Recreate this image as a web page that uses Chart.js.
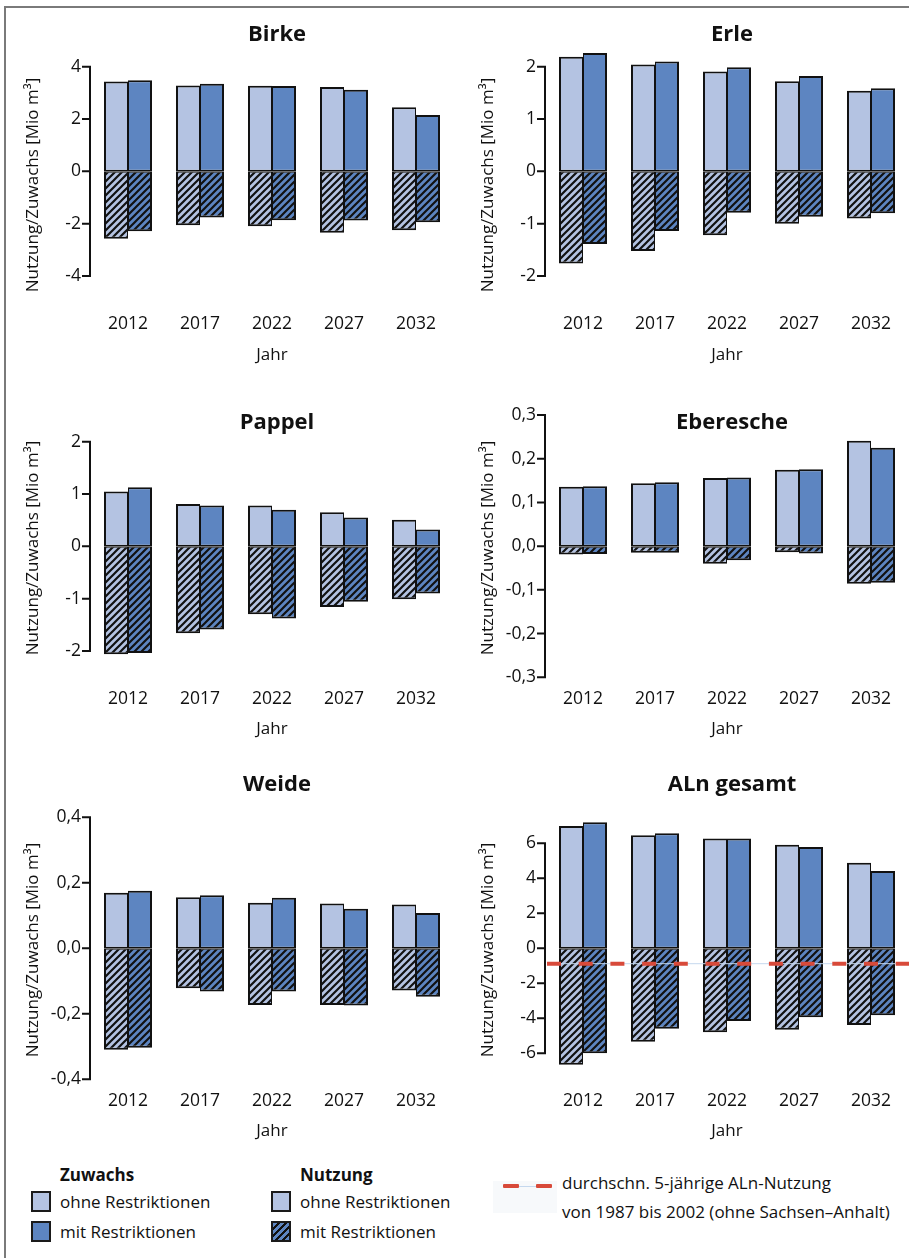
<!DOCTYPE html>
<html>
<head>
<meta charset="utf-8">
<script src="https://cdn.jsdelivr.net/npm/chart.js@4.4.1/dist/chart.umd.min.js"></script>
<style>
  body { margin: 0; background: #fff; width: 909px; height: 1258px; position: relative; overflow: hidden; font-family: "Open Sans", sans-serif; color: #111; }
  #frame { position: absolute; left: 4px; top: 6px; width: 920px; height: 1270px; border-top: 2px solid #7a7a7a; border-left: 2px solid #7a7a7a; }
  canvas { position: absolute; }
  .lg { position: absolute; font-size: 17px; line-height: 20px; white-space: nowrap; }
  .lg.b { font-weight: bold; }
  .sw { position: absolute; width: 20px; height: 21px; box-sizing: border-box; border: 2px solid #1a1a1a; }
</style>
</head>
<body>
<div id="frame"></div>

<!-- legend -->
<div class="lg b" style="left:60px;top:1165px">Zuwachs</div>
<div class="sw" style="left:31px;top:1191px;background:#b4c3e2"></div>
<div class="lg" style="left:60px;top:1192px">ohne Restriktionen</div>
<div class="sw" style="left:31px;top:1221px;background:#5d85c1"></div>
<div class="lg" style="left:60px;top:1222px">mit Restriktionen</div>

<div class="lg b" style="left:300px;top:1165px">Nutzung</div>
<div class="sw" style="left:271px;top:1191px;background:#b4c3e2"></div>
<div class="lg" style="left:300px;top:1192px">ohne Restriktionen</div>
<div class="sw" style="left:271px;top:1221px;background:repeating-linear-gradient(135deg,#5d85c1 0px,#5d85c1 3px,#111 3px,#111 5px)"></div>
<div class="lg" style="left:300px;top:1222px">mit Restriktionen</div>

<div style="position:absolute;left:493px;top:1181px;width:64px;height:32px;background:#f7f9fb"></div>
<div style="position:absolute;left:503px;top:1186px;width:49px;height:1px;background:#c5d8ee"></div>
<div style="position:absolute;left:503px;top:1184px;width:16px;height:4px;background:#d84a3a;border-radius:1px"></div>
<div style="position:absolute;left:536px;top:1184px;width:16px;height:4px;background:#d84a3a;border-radius:1px"></div>
<div class="lg" style="left:562px;top:1173px">durchschn. 5-jährige ALn-Nutzung</div>
<div class="lg" style="left:562px;top:1202px">von 1987 bis 2002 (ohne Sachsen–Anhalt)</div>

<script>
// Jahre
const years = ['2012', '2017', '2022', '2027', '2032'];

// Birke
const birkeZuwachsOhne = [3.43, 3.28, 3.27, 3.22, 2.45];
const birkeZuwachsMit = [3.48, 3.35, 3.26, 3.12, 2.15];
const birkeNutzungOhne = [-2.58, -2.06, -2.10, -2.35, -2.25];
const birkeNutzungMit = [-2.29, -1.76, -1.87, -1.88, -1.95];
const birkeTicks = [-4, -2, 0, 2, 4];

// Erle
const erleZuwachsOhne = [2.19, 2.04, 1.91, 1.72, 1.54];
const erleZuwachsMit = [2.26, 2.10, 1.99, 1.82, 1.59];
const erleNutzungOhne = [-1.76, -1.52, -1.22, -1.00, -0.90];
const erleNutzungMit = [-1.39, -1.14, -0.79, -0.87, -0.80];
const erleTicks = [-2, -1, 0, 1, 2];

// Pappel
const pappelZuwachsOhne = [1.05, 0.81, 0.78, 0.65, 0.51];
const pappelZuwachsMit = [1.13, 0.78, 0.70, 0.55, 0.32];
const pappelNutzungOhne = [-2.06, -1.66, -1.30, -1.16, -1.01];
const pappelNutzungMit = [-2.04, -1.59, -1.38, -1.06, -0.90];
const pappelTicks = [-2, -1, 0, 1, 2];

// Eberesche
const eberescheZuwachsOhne = [0.136, 0.144, 0.156, 0.175, 0.241];
const eberescheZuwachsMit = [0.137, 0.146, 0.157, 0.176, 0.225];
const eberescheNutzungOhne = [-0.019, -0.015, -0.040, -0.014, -0.086];
const eberescheNutzungMit = [-0.018, -0.015, -0.032, -0.017, -0.084];
const eberescheTicks = [-0.3, -0.2, -0.1, 0, 0.1, 0.2, 0.3];

// Weide
const weideZuwachsOhne = [0.170, 0.156, 0.139, 0.137, 0.134];
const weideZuwachsMit = [0.176, 0.162, 0.154, 0.121, 0.108];
const weideNutzungOhne = [-0.310, -0.122, -0.173, -0.173, -0.129];
const weideNutzungMit = [-0.304, -0.132, -0.132, -0.175, -0.148];
const weideTicks = [-0.4, -0.2, 0, 0.2, 0.4];

// ALn gesamt
const alnZuwachsOhne = [6.99, 6.46, 6.27, 5.92, 4.89];
const alnZuwachsMit = [7.20, 6.57, 6.27, 5.79, 4.42];
const alnNutzungOhne = [-6.65, -5.34, -4.80, -4.65, -4.38];
const alnNutzungMit = [-6.00, -4.59, -4.15, -3.94, -3.83];
const alnTicks = [-6, -4, -2, 0, 2, 4, 6];
const alnMittelNutzung = -0.88;

const LIGHT = '#b4c3e2';
const DARK = '#5d85c1';
const INK = '#111';
const FONT = "'Open Sans', sans-serif";

function hatch(base) {
    const s = 7;
    const c = document.createElement('canvas');
    c.width = s; c.height = s;
    const g = c.getContext('2d');
    g.fillStyle = base;
    g.fillRect(0, 0, s, s);
    g.strokeStyle = INK;
    g.lineWidth = 2.2;
    g.beginPath();
    g.moveTo(-1, s + 1); g.lineTo(s + 1, -1);
    g.moveTo(-1, 1); g.lineTo(1, -1);
    g.moveTo(s - 1, s + 1); g.lineTo(s + 1, s - 1);
    g.stroke();
    return g.createPattern(c, 'repeat');
}

function fmt(v, dec) {
    return v.toFixed(dec).replace('.', ',');
}

// draws axis line, tick marks, panel title, y title and the mean line
const decor = {
    id: 'decor',
    afterDatasetsDraw(chart, args, o) {
        if (o.mean === undefined) return;
        const { ctx, chartArea: a, scales: { y } } = chart;
        const py = y.getPixelForValue(o.mean);
        ctx.save();
        ctx.strokeStyle = '#c5d8ee';
        ctx.lineWidth = 1;
        ctx.beginPath(); ctx.moveTo(a.left, py); ctx.lineTo(chart.width, py); ctx.stroke();
        ctx.strokeStyle = '#d84a3a';
        ctx.lineWidth = 4;
        ctx.setLineDash([14, 17.7]);
        ctx.beginPath(); ctx.moveTo(a.left, py); ctx.lineTo(chart.width, py); ctx.stroke();
        ctx.restore();
    },
    afterDraw(chart, args, o) {
        const { ctx, chartArea: a, scales: { y } } = chart;
        const t = y.ticks;
        const ax = a.left - 2;
        const yTop = y.getPixelForValue(t[t.length - 1].value);
        const yBot = y.getPixelForValue(t[0].value);
        ctx.save();
        ctx.strokeStyle = INK;
        ctx.lineWidth = 2;
        ctx.beginPath();
        ctx.moveTo(ax, yTop - 1); ctx.lineTo(ax, yBot + 1);
        t.forEach(k => {
            const p = y.getPixelForValue(k.value);
            ctx.moveTo(ax - 8, p); ctx.lineTo(ax, p);
        });
        ctx.stroke();

        ctx.fillStyle = INK;
        ctx.textAlign = 'center';
        ctx.textBaseline = 'middle';
        ctx.font = "bold 22px 'Open Sans'";
        ctx.fillText(o.title, (a.left + a.right) / 2 + 5, o.titleY);

        ctx.font = "17px 'Open Sans'";
        ctx.translate(33, o.yTitleY);
        ctx.rotate(-Math.PI / 2);
        ctx.fillText('Nutzung/Zuwachs [Mio m³]', 0, 0);
        ctx.restore();
    }
};

const panels = [
    { title: 'Birke', col: 0, rowTop: 0, zo: birkeZuwachsOhne, zm: birkeZuwachsMit, no: birkeNutzungOhne, nm: birkeNutzungMit,
      ticks: birkeTicks, dec: 0, min: -4, max: 4, tickTopPx: 66.7, tickBotPx: 276, titleY: 35, labelY: 324, jahrY: 355, yTitleY: 185 },
    { title: 'Erle', col: 1, rowTop: 0, zo: erleZuwachsOhne, zm: erleZuwachsMit, no: erleNutzungOhne, nm: erleNutzungMit,
      ticks: erleTicks, dec: 0, min: -2, max: 2.5, tickTopPx: 66.7, tickBotPx: 276, titleY: 35, labelY: 324, jahrY: 355, yTitleY: 185 },
    { title: 'Pappel', col: 0, rowTop: 380, zo: pappelZuwachsOhne, zm: pappelZuwachsMit, no: pappelNutzungOhne, nm: pappelNutzungMit,
      ticks: pappelTicks, dec: 0, min: -2.2, max: 2, tickTopPx: 441.7, tickBotPx: 651, titleY: 423, labelY: 699, jahrY: 729, yTitleY: 548 },
    { title: 'Eberesche', col: 1, rowTop: 380, zo: eberescheZuwachsOhne, zm: eberescheZuwachsMit, no: eberescheNutzungOhne, nm: eberescheNutzungMit,
      ticks: eberescheTicks, dec: 1, min: -0.3, max: 0.3, tickTopPx: 415, tickBotPx: 677.3, titleY: 423, labelY: 699, jahrY: 729, yTitleY: 548 },
    { title: 'Weide', col: 0, rowTop: 760, zo: weideZuwachsOhne, zm: weideZuwachsMit, no: weideNutzungOhne, nm: weideNutzungMit,
      ticks: weideTicks, dec: 1, min: -0.4, max: 0.4, tickTopPx: 817.3, tickBotPx: 1079.3, titleY: 785, labelY: 1101, jahrY: 1131, yTitleY: 950 },
    { title: 'ALn gesamt', col: 1, rowTop: 760, zo: alnZuwachsOhne, zm: alnZuwachsMit, no: alnNutzungOhne, nm: alnNutzungMit,
      ticks: alnTicks, dec: 0, min: -7, max: 7.5, tickTopPx: 843.3, tickBotPx: 1053.3, titleY: 785, labelY: 1101, jahrY: 1131, yTitleY: 950,
      mean: alnMittelNutzung }
];

function makePanel(p) {
    const tMin = p.ticks[0], tMax = p.ticks[p.ticks.length - 1];
    const ppu = (p.tickBotPx - p.tickTopPx) / (tMax - tMin);
    const areaTop = p.tickTopPx - (p.max - tMax) * ppu;
    const areaBottom = p.tickBotPx + (tMin - p.min) * ppu;
    const colX = p.col === 0 ? 0 : 455;
    const colW = p.col === 0 ? 455 : 454;
    const areaRight = p.col === 0 ? 452 : 907;
    const canvasH = Math.round(p.jahrY + 10.2 - p.rowTop);
    const xH = canvasH - (areaBottom - p.rowTop);
    const labelPad = p.labelY - areaBottom - 10.5;

    const cv = document.createElement('canvas');
    cv.width = colW; cv.height = canvasH;
    cv.style.left = colX + 'px'; cv.style.top = p.rowTop + 'px';
    document.body.appendChild(cv);

    const common = { categoryPercentage: 0.667, barPercentage: 1.0, borderColor: INK, borderSkipped: false };
    new Chart(cv.getContext('2d'), {
        type: 'bar',
        data: {
            labels: years,
            datasets: [
                { ...common, label: 'Zuwachs ohne Restriktionen', data: p.zo, stack: 'ohne', backgroundColor: LIGHT,
                  borderWidth: { top: 2, bottom: 1.5, left: 2, right: 1 } },
                { ...common, label: 'Nutzung ohne Restriktionen', data: p.no, stack: 'ohne', backgroundColor: hatch(LIGHT),
                  borderWidth: { top: 1.5, bottom: 2, left: 2, right: 1 } },
                { ...common, label: 'Zuwachs mit Restriktionen', data: p.zm, stack: 'mit', backgroundColor: DARK,
                  borderWidth: { top: 2, bottom: 1.5, left: 1, right: 2 } },
                { ...common, label: 'Nutzung mit Restriktionen', data: p.nm, stack: 'mit', backgroundColor: hatch(DARK),
                  borderWidth: { top: 1.5, bottom: 2, left: 1, right: 2 } }
            ]
        },
        options: {
            responsive: false,
            animation: false,
            devicePixelRatio: 1,
            layout: { padding: { top: areaTop - p.rowTop, right: colX + colW - areaRight, bottom: 0, left: 0 } },
            plugins: {
                legend: { display: false },
                tooltip: { enabled: false },
                decor: { title: p.title, titleY: p.titleY - p.rowTop, yTitleY: p.yTitleY - p.rowTop, mean: p.mean }
            },
            scales: {
                x: {
                    stacked: true,
                    grid: { display: false, drawTicks: false },
                    border: { display: false },
                    ticks: { padding: labelPad, color: INK, font: { family: FONT, size: 17.5 }, maxRotation: 0, autoSkip: false },
                    title: { display: true, text: 'Jahr', color: INK, font: { family: FONT, size: 17 }, padding: 0 },
                    afterFit: s => { s.height = xH; s.paddingLeft = 0; s.paddingRight = 0; }
                },
                y: {
                    stacked: true,
                    min: p.min,
                    max: p.max,
                    grid: { display: false, drawTicks: false },
                    border: { display: false },
                    ticks: { padding: 11, color: INK, font: { family: FONT, size: 17.5 }, autoSkip: false,
                             callback: v => fmt(v, p.dec) },
                    afterBuildTicks: s => { s.ticks = p.ticks.map(v => ({ value: v })); },
                    afterFit: s => { s.width = 92; s.paddingTop = 0; s.paddingBottom = 0; }
                }
            }
        },
        plugins: [decor]
    });
}

Promise.all([
    document.fonts.load("17px 'Open Sans'"),
    document.fonts.load("bold 22px 'Open Sans'")
]).catch(() => {}).then(() => {
    panels.forEach(makePanel);
});
</script>
</body>
</html>
